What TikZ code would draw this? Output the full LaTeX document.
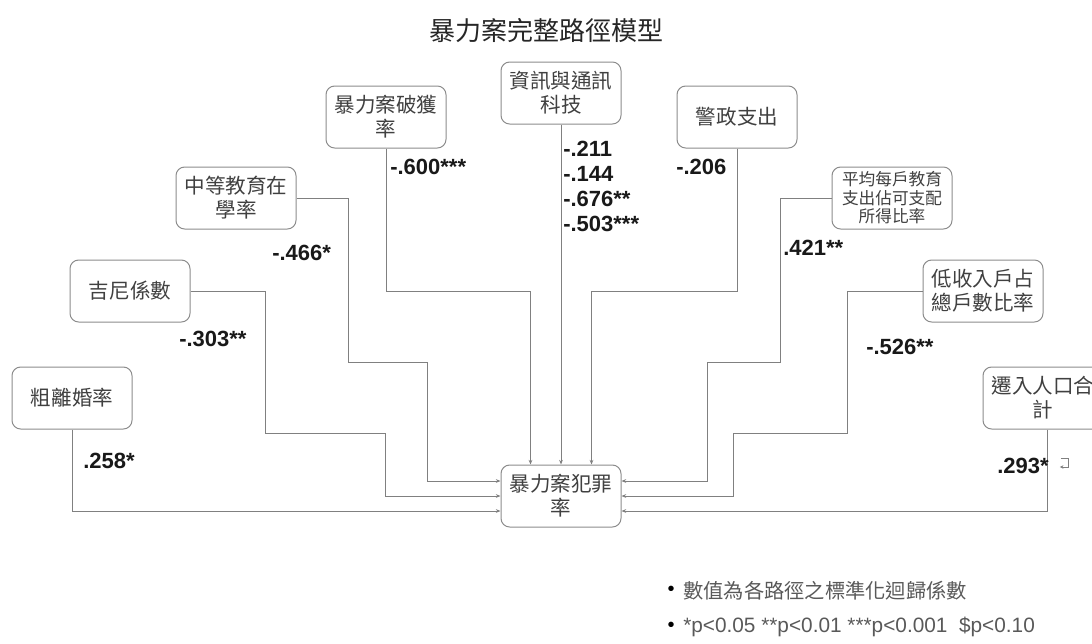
\documentclass[tikz,border=0pt]{standalone}
\usepackage{fontspec}
\setmainfont{Liberation Sans}
\newfontfamily\cjk{Noto Sans CJK TC}
\usetikzlibrary{arrows.meta,calc}
\definecolor{boxline}{HTML}{8C8C8C}
\definecolor{conncol}{HTML}{808080}
\definecolor{boxtext}{HTML}{404040}
\definecolor{legtext}{HTML}{595959}
\begin{document}
\begin{tikzpicture}[x=0.75pt,y=-0.75pt,
  box/.style={draw=boxline, line width=0.75pt, rounded corners=6.5pt,
    minimum width=90pt, minimum height=46.5pt, align=center, text=boxtext,
    font=\cjk\fontsize{15.4pt}{18pt}\selectfont, inner sep=2pt},
  smallbox/.style={box, font=\cjk\fontsize{12.5pt}{13.9pt}\selectfont},
  conn/.style={draw=conncol, line width=0.75pt, -{Stealth[length=3.5pt,width=2.8pt]}},
  coef/.style={font=\bfseries\fontsize{16.5pt}{18pt}\selectfont, anchor=west,
    inner sep=0pt, text=black!90},
  legend/.style={anchor=west, inner sep=0pt, text=legtext, font=\fontsize{15.6pt}{18pt}\selectfont},
]
\useasboundingbox (0,0) rectangle (1092,643);
\clip (0,0) rectangle (1092,643);
\fill[white] (0,0) rectangle (1092,643);

% title
\node[text=black!85, font=\cjk\fontsize{19.5pt}{22pt}\selectfont] (title) at (546,31) {暴力案完整路徑模型};

% boxes
\node[box] (ict) at (561,93) {資訊與通訊\\科技};
\node[box] (clear) at (386,117) {暴力案破獲\\率};
\node[box] (police) at (737,117) {警政支出};
\node[box] (edu) at (236,198) {中等教育在\\學率};
\node[smallbox] (eduexp) at (892,198) {平均每戶教育\\支出佔可支配\\所得比率};
\node[box] (gini) at (130,291) {吉尼係數};
\node[box] (lowinc) at (983,291) {低收入戶占\\總戶數比率};
\node[box] (divorce) at (72,398) {粗離婚率};
\node[box] (migr) at (1043,398) {遷入人口合\\計};
\node[box] (crime) at (561,496) {暴力案犯罪\\率};

% arrival points
\coordinate (t1) at ($(crime.north)+(-30.5,0)$);
\coordinate (t3) at ($(crime.north)+(30.5,0)$);
\coordinate (l1) at ($(crime.west)+(0,-15)$);
\coordinate (l3) at ($(crime.west)+(0,15)$);
\coordinate (r1) at ($(crime.east)+(0,-15)$);
\coordinate (r3) at ($(crime.east)+(0,15)$);
\coordinate (ms) at ($(migr.south)+(4,0)$);

% connectors
\draw[conn] (clear.south) -- ++(0,143) -| (t1);
\draw[conn] (ict.south) -- (crime.north);
\draw[conn] (police.south) -- ++(0,143) -| (t3);
\draw[conn] (edu.east) -- ++(52,0) |- ++(79,164) |- (l1);
\draw[conn] (gini.east) -- ++(75,0) |- ++(120,142) |- (crime.west);
\draw[conn] (divorce.south) |- (l3);
\draw[conn] (eduexp.west) -- ++(-51,0) |- ++(-73,164) |- (r1);
\draw[conn] (lowinc.west) -- ++(-75,0) |- ++(-114,142) |- (crime.east);
\draw[conn] (ms) |- (r3);

% coefficients
\node[coef] (c600) at (390,167) {-.600***};
\node[coef] (c211) at (563,149) {-.211};
\node[coef] (c144) at (563,174) {-.144};
\node[coef] (c676) at (563,199) {-.676**};
\node[coef] (c503) at (563,224) {-.503***};
\node[coef] (c206) at (676,167) {-.206};
\node[coef] (c466) at (272,253) {-.466*};
\node[coef] (c303) at (179,339) {-.303**};
\node[coef] (c258) at (83,461) {.258*};
\node[coef] (c421) at (783,248) {.421**};
\node[coef] (c526) at (866,347) {-.526**};
\node[coef] (c293) at (997,466) {.293*};

% return mark
\draw[conncol, line width=0.6pt, -{Stealth[length=2.6pt,width=2.6pt]}]
  ($(c293.east)+(12,-8)$) -- ++(7,0) -- ++(0,9) -- ++(-8,0);

% legend
\node[anchor=center, text=black, font=\fontsize{15pt}{18pt}\selectfont] (b1) at (671,591) {•};
\node[legend, font=\cjk\fontsize{15.2pt}{18pt}\selectfont] (leg1) at (683,591) {數值為各路徑之標準化迴歸係數};
\node[anchor=center, text=black, font=\fontsize{15pt}{18pt}\selectfont] (b2) at (671,627) {•};
\node[legend] (leg2) at (683,627) {*p<0.05 **p<0.01 ***p<0.001 \ \$p<0.10};
\end{tikzpicture}
\end{document}
